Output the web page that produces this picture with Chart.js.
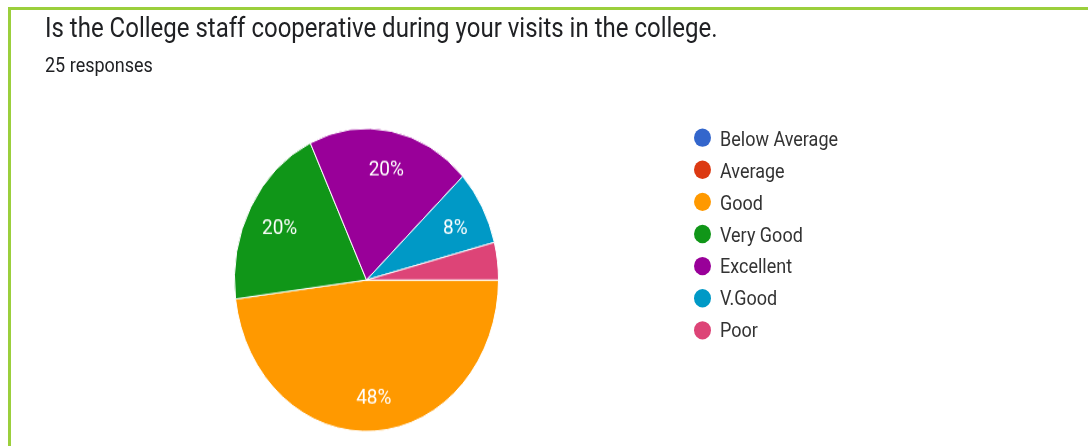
<!DOCTYPE html>
<html>
<head>
<meta charset="utf-8">
<script src="https://cdn.jsdelivr.net/npm/chart.js@4.4.1/dist/chart.umd.min.js"></script>
<style>
  html,body{margin:0;padding:0;background:#fff;width:1088px;height:446px;overflow:hidden;font-family:Roboto,Arial,sans-serif;}
  #frame{position:absolute;left:8px;top:7px;width:1200px;height:500px;border-left:3px solid #9bcf3c;border-top:3px solid #9bcf3c;}
  /* the source screenshot is stretched vertically, so the whole stage is too */
  #stage{position:absolute;left:0;top:0;width:1088px;height:389px;transform:scaleY(1.147);transform-origin:0 0;}
  #title{position:absolute;left:45px;top:12px;font-size:24px;line-height:24px;color:#202124;white-space:nowrap;}
  #sub{position:absolute;left:45px;top:47.7px;font-size:18px;line-height:18px;color:#202124;white-space:nowrap;}
  #pie{position:absolute;left:0;top:0;}
  .leg{position:absolute;left:694px;height:20px;display:flex;align-items:center;font-size:18px;color:#333;white-space:nowrap;}
  .leg i{display:inline-block;width:17px;height:16px;border-radius:50%;margin-right:9px;}
</style>
</head>
<body>
<div id="frame"></div>
<div id="stage">
  <div id="title">Is the College staff cooperative during your visits in the college.</div>
  <div id="sub">25 responses</div>
  <canvas id="pie" width="1088" height="389"></canvas>
  <div id="legend"></div>
</div>
<script>
// answers in legend order, counts out of 25 responses
const labels = ["Below Average","Average","Good","Very Good","Excellent","V.Good","Poor"];
const counts = [0, 0, 12, 5, 5, 2, 1];
const colors = ["#3366cc","#dc3912","#ff9900","#109618","#990099","#0099c6","#dd4477"];

const total = counts.reduce((a,b)=>a+b,0);

// legend (html, like the forms summary)
const legendEl = document.getElementById("legend");
labels.forEach((name,i)=>{
  const d = document.createElement("div");
  d.className = "leg";
  d.style.top = (110.3 + i*27.9) + "px";
  d.innerHTML = `<i style="background:${colors[i]}"></i>${name}`;
  legendEl.appendChild(d);
});

// percent text inside the bigger slices
const pctLabels = {
  id:"pctLabels",
  afterDatasetsDraw(chart){
    const ctx = chart.ctx;
    const meta = chart.getDatasetMeta(0);
    ctx.save();
    ctx.fillStyle = "#fff";
    ctx.font = "19px Roboto, Arial, sans-serif";
    ctx.textAlign = "center";
    ctx.textBaseline = "middle";
    meta.data.forEach((arc,i)=>{
      const pct = counts[i]/total*100;
      if(pct < 5) return;
      const p = arc.getProps(["x","y","startAngle","endAngle","outerRadius"], true);
      const mid = (p.startAngle + p.endAngle)/2;
      const r = p.outerRadius*0.76;
      ctx.fillText(Math.round(pct)+"%", p.x + Math.cos(mid)*r + 1, p.y + Math.sin(mid)*r + 3);
    });
    ctx.restore();
  }
};

new Chart(document.getElementById("pie"),{
  type:"pie",
  data:{
    labels,
    datasets:[{data:counts, backgroundColor:colors, borderColor:"#fff", borderWidth:1}]
  },
  options:{
    responsive:false,
    animation:false,
    rotation:90,
    layout:{padding:{left:234, right:589, top:111.6, bottom:12.4}},
    plugins:{legend:{display:false}, tooltip:{enabled:false}}
  },
  plugins:[pctLabels]
});
</script>
</body>
</html>
